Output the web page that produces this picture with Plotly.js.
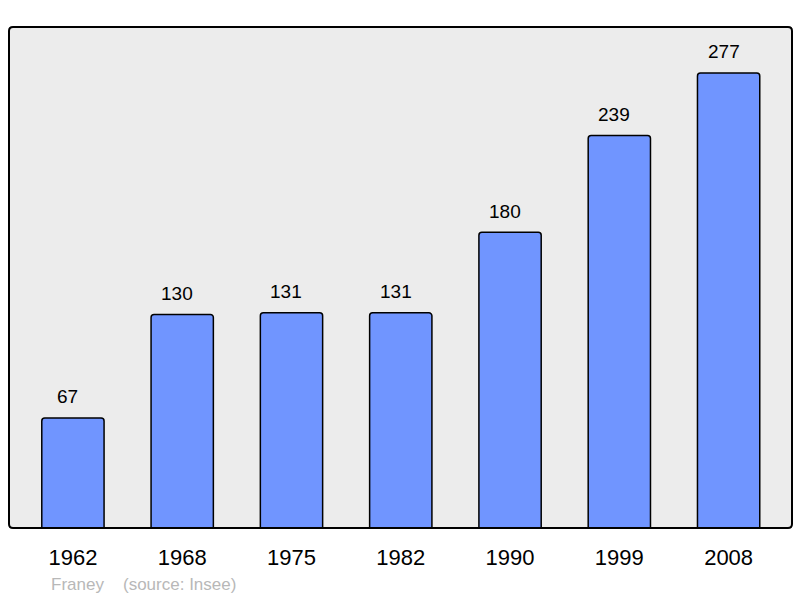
<!DOCTYPE html>
<html>
<head>
<meta charset="utf-8">
<script src="https://cdn.plot.ly/plotly-3.0.1.min.js"></script>
<style>html,body{margin:0;padding:0;background:#fff;}#chart{width:800px;height:598px;}</style>
</head>
<body>
<div id="chart"></div>
<script>
var years = ["1962", "1968", "1975", "1982", "1990", "1999", "2008"];
var population = [67, 130, 131, 131, 180, 239, 277];
var commune = "Franey";
var source = "(source: Insee)";

var font = "Liberation Sans, Arial, sans-serif";

var trace = {
  type: "bar",
  x: years,
  y: population,
  width: 0.57,
  marker: { color: "#7095ff", line: { color: "#000000", width: 1.5 }, cornerradius: 3 },
  hoverinfo: "x+y"
};

var annotations = years.map(function (yr, i) {
  return {
    x: i, y: population[i], xref: "x", yref: "y",
    text: String(population[i]), showarrow: false,
    yanchor: "middle", yshift: 21, xshift: -5,
    font: { family: font, size: 19, color: "#000000" }
  };
});
annotations.push({
  xref: "paper", yref: "paper", x: (49 - 9) / 783, y: (528 - 584) / 501,
  xanchor: "left", yanchor: "middle", text: commune, showarrow: false,
  font: { family: font, size: 17, color: "#b8b8b8" }
});
annotations.push({
  xref: "paper", yref: "paper", x: (121 - 9) / 783, y: (528 - 584) / 501,
  xanchor: "left", yanchor: "middle", text: source, showarrow: false,
  font: { family: font, size: 17, color: "#b8b8b8" }
});

var rx = 4 / 783, ry = 4 / 501;
var framePath = "M " + rx + " 0 L " + (1 - rx) + " 0 Q 1 0 1 " + ry +
  " L 1 " + (1 - ry) + " Q 1 1 " + (1 - rx) + " 1 L " + rx + " 1 Q 0 1 0 " + (1 - ry) +
  " L 0 " + ry + " Q 0 0 " + rx + " 0 Z";

var layout = {
  width: 800, height: 598,
  margin: { l: 9, r: 8, t: 27, b: 70, pad: 0 },
  paper_bgcolor: "#ffffff",
  plot_bgcolor: "#ececec",
  showlegend: false,
  xaxis: {
    type: "category", range: [-0.585, 6.58], fixedrange: true,
    showgrid: false, zeroline: false, showline: false, ticks: "",
    ticklabelstandoff: 14,
    tickfont: { family: font, size: 22, color: "#000000" }
  },
  yaxis: {
    range: [0, 305], showgrid: false, zeroline: false, showline: false,
    showticklabels: false, ticks: "", fixedrange: true
  },
  shapes: [{
    type: "path", xref: "paper", yref: "paper", path: framePath,
    line: { color: "#000000", width: 2 }, fillcolor: "rgba(0,0,0,0)", layer: "above"
  }],
  annotations: annotations
};

Plotly.newPlot("chart", [trace], layout, { displayModeBar: false, staticPlot: true });
</script>
</body>
</html>
